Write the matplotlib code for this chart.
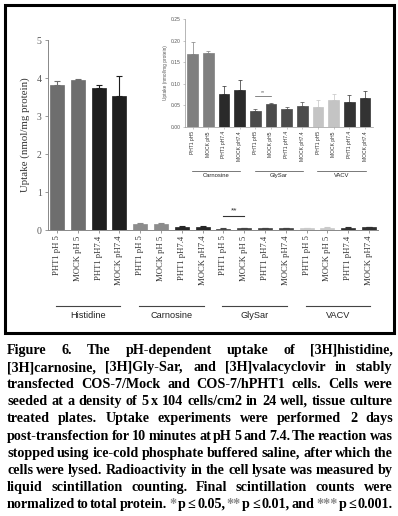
import numpy as np
import matplotlib
matplotlib.use("Agg")
import matplotlib.pyplot as plt
from matplotlib.patches import Rectangle

# data
groups = ["Histidine", "Carnosine", "GlySar", "VACV"]
main_labels = ["PHT1 pH 5", "MOCK pH 5", "PHT1 pH7.4", "MOCK pH7.4"]
inset_labels = ["PHT1 pH5", "MOCK pH5", "PHT1 pH7.4", "MOCK pH7.4"]

histidine = [3.82, 3.95, 3.73, 3.53]
histidine_err = [0.10, 0.02, 0.08, 0.52]
carnosine = [0.170, 0.171, 0.077, 0.085]
carnosine_err = [0.027, 0.004, 0.017, 0.023]
glysar = [0.036, 0.053, 0.041, 0.049]
glysar_err = [0.005, 0.002, 0.006, 0.010]
vacv = [0.046, 0.062, 0.059, 0.068]
vacv_err = [0.016, 0.015, 0.016, 0.015]

main_colors = ["#6e6e6e", "#6e6e6e", "#1e1e1e", "#1e1e1e",
               "#8c8c8c", "#8c8c8c", "#262626", "#262626",
               "#454545", "#454545", "#454545", "#454545",
               "#cacaca", "#cacaca", "#303030", "#303030"]
inset_colors = ["#7f7f7f", "#7f7f7f", "#2a2a2a", "#2a2a2a",
                "#4b4b4b", "#4b4b4b", "#4b4b4b", "#4b4b4b",
                "#c4c4c4", "#c4c4c4", "#333333", "#333333"]

caption = [
    "Figure 6. The pH-dependent uptake of [3H]histidine,",
    "[3H]carnosine, [3H]Gly-Sar, and [3H]valacyclovir in stably",
    "transfected COS-7/Mock and COS-7/hPHT1 cells. Cells were",
    "seeded at a density of 5 x 104 cells/cm2 in 24 well, tissue culture",
    "treated plates. Uptake experiments were performed 2 days",
    "post-transfection for 10 minutes at pH 5 and 7.4. The reaction was",
    "stopped using ice-cold phosphate buffered saline, after which the",
    "cells were lysed. Radioactivity in the cell lysate was measured by",
    "liquid scintillation counting. Final scintillation counts were",
    "normalized to total protein. * p \u2264 0.05, ** p \u2264 0.01, and *** p \u2264 0.001.",
]

W, H = 398, 516
SERIF = "Liberation Serif"
SANS = "Liberation Sans"


def px(x0, y0, x1, y1):
    # pixel box (top-left origin) -> figure fraction rect
    return [x0 / W, 1 - y1 / H, (x1 - x0) / W, (y1 - y0) / H]


def draw_bars(ax, values, errs, colors, width, capsize, elw):
    x = np.arange(len(values))
    ax.bar(x, values, width=width, color=colors, edgecolor=colors, linewidth=0.5, zorder=2)
    for xi, v, e, c in zip(x, values, errs, colors):
        ax.errorbar(xi, v, yerr=[[0], [e]], fmt="none", ecolor=c,
                    elinewidth=elw, capsize=capsize, capthick=elw, zorder=3)
    return x


def group_lines(ax, n_per_group, names, y_line, y_text, fontsize, lw):
    trans = ax.get_xaxis_transform()
    for g, name in enumerate(names):
        a = g * n_per_group
        b = a + n_per_group - 1
        ax.plot([a - 0.05, b + 0.05], [y_line, y_line], color="#444444", lw=lw,
                transform=trans, clip_on=False)
        ax.text((a + b) / 2, y_text, name, transform=trans, ha="center", va="top",
                fontsize=fontsize, family=SANS, color="#222222")


def justify(fig, lines, x0, x1, y0, step, min_gap=1.8, **kw):
    # lay out each caption line word by word so it fills x0..x1 (pixels)
    r = fig.canvas.get_renderer()
    avail = x1 - x0
    sizes = []
    for line in lines:
        words = line.split()
        probe = [fig.text(0, 0, w, fontsize=10, **kw) for w in words]
        wsum = sum(t.get_window_extent(r).width for t in probe)
        for t in probe:
            t.remove()
        sizes.append(10 * (avail - (len(words) - 1) * min_gap) / wsum)
    size = min(sizes)
    for k, line in enumerate(lines):
        y = round(y0 + k * step)
        words = line.split()
        texts = []
        for w in words:
            col = "#8a8a8a" if set(w) == {"*"} else "black"
            texts.append(fig.text(0, 1 - y / H, w, va="baseline", ha="left",
                                  fontsize=size, color=col, **kw))
        widths = [t.get_window_extent(r).width for t in texts]
        gap = (avail - sum(widths)) / (len(words) - 1)
        x = x0
        for t, w in zip(texts, widths):
            t.set_x(round(x) / W)
            x += w + gap


fig = plt.figure(figsize=(W / 100, H / 100), dpi=100)

# frame around the chart
fig.patches.append(Rectangle((5 / W, 1 - 333 / H), 389 / W, 328 / H,
                             transform=fig.transFigure, fill=False,
                             edgecolor="black", linewidth=2.2))

# ---------------- main axes ----------------
ax = fig.add_axes(px(48, 40, 378, 230))
main_values = histidine + carnosine + glysar + vacv
main_errs = histidine_err + carnosine_err + glysar_err + vacv_err
xm = draw_bars(ax, main_values, main_errs, main_colors, 0.67, 2.2, 0.8)
ax.set_xlim(-0.43, 15.43)
ax.set_ylim(0, 5)
ax.set_yticks(range(6))
ax.set_xticks(xm)
ax.set_xticklabels(main_labels * 4, rotation=90, family=SERIF, fontsize=6.2, color="#333333")
ax.tick_params(axis="y", labelsize=7, labelcolor="#555555", length=2.5, width=0.6, color="#888888", pad=2)
ax.tick_params(axis="x", length=2, width=0.6, color="#888888", pad=2)
for lab in ax.get_yticklabels():
    lab.set_family(SERIF)
for s in ["top", "right"]:
    ax.spines[s].set_visible(False)
for s in ["left", "bottom"]:
    ax.spines[s].set_color("#888888")
    ax.spines[s].set_linewidth(0.7)
ax.set_ylabel("Uptake (nmol/mg protein)", family=SERIF, fontsize=7.8, color="#333333", labelpad=5)

# significance GlySar pH5
ax.plot([8, 9], [0.37, 0.37], color="#333333", lw=0.8)
ax.text(8.5, 0.40, "**", ha="center", va="bottom", fontsize=6, family=SANS, color="#333333")

group_lines(ax, 4, groups, -0.40, -0.425, 6.6, 0.8)

# ---------------- inset axes ----------------
ins = fig.add_axes(px(185, 19, 373, 127))
inset_values = carnosine + glysar + vacv
inset_errs = carnosine_err + glysar_err + vacv_err
xi = draw_bars(ins, inset_values, inset_errs, inset_colors, 0.68, 1.2, 0.5)
ins.set_xlim(-0.48, 11.5)
ins.set_ylim(0, 0.25)
ins.set_yticks(np.arange(0, 0.26, 0.05))
ins.set_yticklabels(["%.2f" % v for v in np.arange(0, 0.26, 0.05)],
                    family=SANS, fontsize=3.6, color="#555555")
ins.set_xticks(xi)
ins.set_xticklabels(inset_labels * 3, rotation=90, family=SANS, fontsize=3.6, color="#333333")
ins.tick_params(length=1.5, width=0.4, color="#999999", pad=1.5)
for s in ["top", "right"]:
    ins.spines[s].set_visible(False)
for s in ["left", "bottom"]:
    ins.spines[s].set_color("#999999")
    ins.spines[s].set_linewidth(0.5)
ins.set_ylabel("Uptake (nmol/mg protein)", family=SANS, fontsize=3.4, color="#555555", labelpad=2)

ins.plot([4, 5], [0.072, 0.072], color="#555555", lw=0.5)
ins.text(4.5, 0.075, "**", ha="center", va="bottom", fontsize=3.8, family=SANS, color="#555555")

group_lines(ins, 4, groups[1:], -0.407, -0.425, 4.2, 0.5)

# ---------------- caption ----------------
justify(fig, caption, 7, 393, 354, 17.1, family=SERIF, fontweight="bold")

fig.savefig("out.png", dpi=100)
